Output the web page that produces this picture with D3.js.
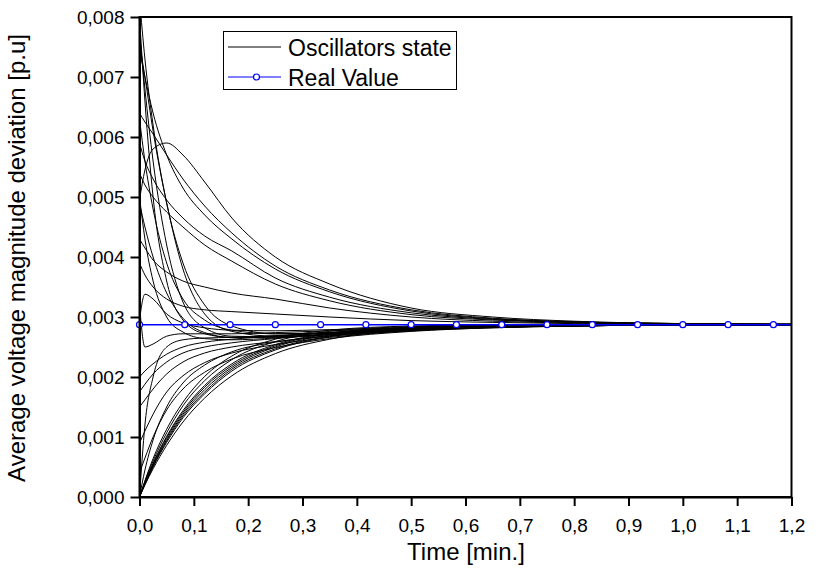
<!DOCTYPE html>
<html>
<head>
<meta charset="utf-8">
<script src="https://cdn.jsdelivr.net/npm/d3@7"></script>
<style>
  body { margin: 0; background: #fff; }
  text { font-family: "Liberation Sans", Arial, sans-serif; }
</style>
</head>
<body>
<div id="chart"></div>
<script>
// sample times [min.] used for all oscillator curves
var oscTime = [0, 0.01, 0.025, 0.05, 0.08, 0.12, 0.17, 0.25, 0.35, 0.5, 0.65, 0.8, 1.0, 1.2];

// oscillator states, in 1e-3 p.u.
var fastDecay = [
  [8.0, 6.6, 5.0, 3.6, 2.95, 2.72, 2.66, 2.68, 2.74, 2.80, 2.84, 2.86, 2.87, 2.87],
  [7.75, 6.8, 5.6, 4.2, 3.25, 2.82, 2.68, 2.67, 2.72, 2.79, 2.83, 2.86, 2.87, 2.87],
  [7.56, 7.0, 6.1, 4.9, 3.8, 3.05, 2.76, 2.68, 2.71, 2.78, 2.83, 2.85, 2.87, 2.87],
  [8.3, 7.3, 6.2, 4.9, 3.9, 3.2, 2.85, 2.72, 2.73, 2.79, 2.83, 2.86, 2.87, 2.87],
  [6.3, 5.6, 4.8, 3.9, 3.3, 2.95, 2.78, 2.72, 2.74, 2.80, 2.84, 2.86, 2.87, 2.87],
  [5.0, 4.3, 3.6, 3.0, 2.75, 2.64, 2.62, 2.65, 2.71, 2.78, 2.83, 2.85, 2.87, 2.87],
  [4.9, 4.5, 4.0, 3.4, 2.98, 2.74, 2.66, 2.66, 2.71, 2.78, 2.83, 2.85, 2.87, 2.87]
];
var slowDecay = [
  [4.95, 5.45, 5.8, 5.9, 5.7, 5.25, 4.65, 4.0, 3.55, 3.15, 3.0, 2.93, 2.89, 2.88],
  [6.4, 6.25, 6.05, 5.7, 5.3, 4.85, 4.4, 3.85, 3.45, 3.12, 2.98, 2.92, 2.89, 2.88],
  [7.45, 7.0, 6.4, 5.7, 5.15, 4.7, 4.3, 3.8, 3.42, 3.1, 2.97, 2.92, 2.89, 2.88],
  [5.9, 5.6, 5.3, 4.95, 4.65, 4.35, 4.1, 3.65, 3.33, 3.07, 2.96, 2.91, 2.89, 2.88],
  [5.4, 5.2, 5.0, 4.75, 4.5, 4.2, 3.93, 3.55, 3.27, 3.04, 2.95, 2.91, 2.88, 2.88],
  [4.3, 4.15, 3.95, 3.75, 3.6, 3.5, 3.4, 3.3, 3.15, 3.0, 2.93, 2.9, 2.88, 2.87],
  [3.9, 3.7, 3.5, 3.3, 3.18, 3.12, 3.09, 3.05, 3.0, 2.94, 2.91, 2.89, 2.88, 2.87]
];
var nearTarget = [
  [2.95, 3.38, 3.3, 3.05, 2.9, 2.82, 2.78, 2.77, 2.79, 2.82, 2.85, 2.86, 2.87, 2.87],
  [3.2, 2.5, 2.55, 2.68, 2.72, 2.72, 2.72, 2.74, 2.77, 2.81, 2.84, 2.86, 2.87, 2.87]
];
var fromZero = [
  [0, 0.27, 0.64, 1.13, 1.58, 2.01, 2.35, 2.63, 2.78, 2.85, 2.87, 2.87, 2.87, 2.87],
  [0, 0.26, 0.60, 1.07, 1.52, 1.94, 2.29, 2.59, 2.76, 2.84, 2.86, 2.87, 2.87, 2.87],
  [0, 0.24, 0.56, 1.01, 1.44, 1.86, 2.22, 2.54, 2.73, 2.83, 2.86, 2.87, 2.87, 2.87],
  [0, 0.235, 0.55, 0.99, 1.41, 1.83, 2.19, 2.52, 2.72, 2.83, 2.86, 2.87, 2.87, 2.87],
  [0, 0.23, 0.53, 0.96, 1.38, 1.79, 2.16, 2.50, 2.70, 2.82, 2.85, 2.87, 2.87, 2.87],
  [0, 0.22, 0.515, 0.935, 1.35, 1.75, 2.13, 2.47, 2.68, 2.81, 2.85, 2.86, 2.87, 2.87],
  [0, 0.21, 0.50, 0.91, 1.32, 1.72, 2.10, 2.45, 2.67, 2.80, 2.85, 2.86, 2.87, 2.87],
  [0, 0.20, 0.47, 0.86, 1.25, 1.65, 2.02, 2.39, 2.63, 2.79, 2.84, 2.86, 2.87, 2.87]
];
var lowerRise = [
  [2.0, 2.1, 2.22, 2.38, 2.5, 2.58, 2.63, 2.68, 2.74, 2.8, 2.84, 2.86, 2.87, 2.87],
  [1.75, 1.88, 2.05, 2.25, 2.4, 2.5, 2.57, 2.64, 2.71, 2.79, 2.83, 2.86, 2.87, 2.87],
  [1.5, 1.62, 1.8, 2.05, 2.25, 2.4, 2.5, 2.59, 2.68, 2.77, 2.83, 2.85, 2.87, 2.87],
  [0.9, 1.1, 1.38, 1.75, 2.02, 2.24, 2.4, 2.54, 2.66, 2.77, 2.82, 2.85, 2.87, 2.87],
  [0.4, 0.65, 1.0, 1.45, 1.8, 2.08, 2.3, 2.49, 2.64, 2.76, 2.82, 2.85, 2.87, 2.87],
  [0, 0.45, 0.95, 1.5, 1.9, 2.2, 2.42, 2.58, 2.69, 2.78, 2.83, 2.86, 2.87, 2.87],
  [0, 1.2, 2.0, 2.5, 2.62, 2.65, 2.66, 2.69, 2.74, 2.8, 2.84, 2.86, 2.87, 2.87]
];

// real value (1e-3 p.u.), markers every 5 s
var realTime = [0, 0.0833, 0.1667, 0.25, 0.3333, 0.4167, 0.5, 0.5833, 0.6667, 0.75, 0.8333, 0.9167, 1.0, 1.0833, 1.1667];
var realValue = [2.872, 2.872, 2.872, 2.872, 2.872, 2.872, 2.872, 2.872, 2.872, 2.872, 2.872, 2.872, 2.872, 2.872, 2.872];

var xTicks = [0, 0.1, 0.2, 0.3, 0.4, 0.5, 0.6, 0.7, 0.8, 0.9, 1.0, 1.1, 1.2];
var yTicks = [0, 0.001, 0.002, 0.003, 0.004, 0.005, 0.006, 0.007, 0.008];

var width = 816, height = 573;
var plotL = 139.5, plotR = 791.5, plotT = 17, plotB = 497;

var svg = d3.select('#chart').append('svg')
    .attr('width', width)
    .attr('height', height);

var x = d3.scaleLinear().domain([0, 1.2]).range([plotL, plotR]);
var y = d3.scaleLinear().domain([0, 0.008]).range([plotB, plotT]);

function comma(d, n) { return d.toFixed(n).replace('.', ','); }

svg.append('clipPath').attr('id', 'plot')
  .append('rect')
    .attr('x', plotL).attr('y', plotT)
    .attr('width', plotR - plotL).attr('height', plotB - plotT);

var line = d3.line()
    .x(function(d, i) { return x(oscTime[i]); })
    .y(function(d) { return y(d * 1e-3); })
    .curve(d3.curveMonotoneX);

var curves = fastDecay.concat(slowDecay, nearTarget, fromZero, lowerRise);

svg.append('g').attr('clip-path', 'url(#plot)')
  .selectAll('path')
  .data(curves)
  .enter().append('path')
    .attr('d', line)
    .attr('fill', 'none')
    .attr('stroke', '#000')
    .attr('stroke-width', 1);

// real value line runs across to the right edge
var realLine = d3.line()
    .x(function(d) { return x(d[0]); })
    .y(function(d) { return y(d[1] * 1e-3); });

var realPts = realTime.map(function(t, i) { return [t, realValue[i]]; });

svg.append('path')
    .attr('d', realLine(realPts.concat([[1.2, realValue[realValue.length - 1]]])))
    .attr('fill', 'none')
    .attr('stroke', '#0000ff')
    .attr('stroke-width', 1.5);

svg.append('g').selectAll('circle')
  .data(realPts)
  .enter().append('circle')
    .attr('cx', function(d) { return x(d[0]); })
    .attr('cy', function(d) { return y(d[1] * 1e-3); })
    .attr('r', 3)
    .attr('fill', '#fff')
    .attr('stroke', '#0000ff')
    .attr('stroke-width', 1.2);

// frame
svg.append('rect')
    .attr('x', plotL).attr('y', plotT)
    .attr('width', plotR - plotL).attr('height', plotB - plotT)
    .attr('fill', 'none')
    .attr('stroke', '#000')
    .attr('stroke-width', 2);

var xAxis = svg.append('g')
    .attr('transform', 'translate(0,' + plotB + ')')
    .call(d3.axisBottom(x).tickValues(xTicks).tickSize(9).tickSizeOuter(0)
      .tickFormat(function(d) { return comma(d, 1); }));

var yAxis = svg.append('g')
    .attr('transform', 'translate(' + plotL + ',0)')
    .call(d3.axisLeft(y).tickValues(yTicks).tickSize(9).tickSizeOuter(0)
      .tickFormat(function(d) { return comma(d, 3); }));

[xAxis, yAxis].forEach(function(a) {
  a.select('.domain').attr('stroke-width', 2);
  a.selectAll('.tick line').attr('stroke-width', 2);
  a.selectAll('.tick text')
    .attr('fill', '#000')
    .style('font-size', '19px')
    .style('font-family', '"Liberation Sans", Arial, sans-serif');
});
xAxis.selectAll('.tick text').attr('dy', '1.2em');
yAxis.selectAll('.tick text').attr('x', -15);

svg.append('text')
    .attr('x', 466)
    .attr('y', 560)
    .attr('text-anchor', 'middle')
    .style('font-size', '24px')
    .text('Time [min.]');

svg.append('text')
    .attr('transform', 'translate(25,258) rotate(-90)')
    .attr('text-anchor', 'middle')
    .style('font-size', '24px')
    .text('Average voltage magnitude deviation [p.u]');

// legend
var lg = svg.append('g');
lg.append('rect')
    .attr('x', 223.5).attr('y', 31.5)
    .attr('width', 233).attr('height', 58)
    .attr('fill', '#fff')
    .attr('stroke', '#000')
    .attr('stroke-width', 1);
lg.append('line')
    .attr('x1', 228).attr('x2', 281).attr('y1', 47).attr('y2', 47)
    .attr('stroke', '#000').attr('stroke-width', 1);
lg.append('line')
    .attr('x1', 228).attr('x2', 281).attr('y1', 77).attr('y2', 77)
    .attr('stroke', '#0000ff').attr('stroke-width', 1.2);
lg.append('circle')
    .attr('cx', 256.5).attr('cy', 77).attr('r', 3)
    .attr('fill', '#fff').attr('stroke', '#0000ff').attr('stroke-width', 1.2);
lg.append('text').attr('x', 288).attr('y', 55.5)
    .style('font-size', '23px').text('Oscillators state');
lg.append('text').attr('x', 288).attr('y', 85.5)
    .style('font-size', '23px').text('Real Value');
</script>
</body>
</html>
